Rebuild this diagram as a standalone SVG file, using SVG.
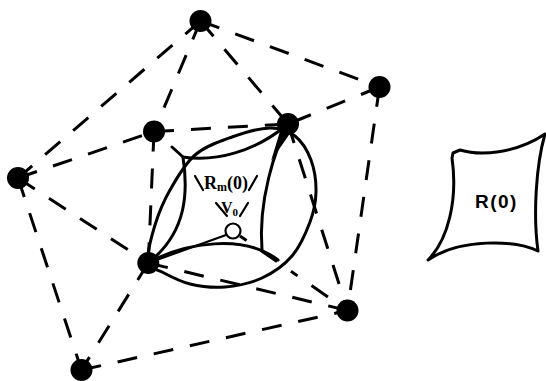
<svg xmlns="http://www.w3.org/2000/svg" width="546" height="381" viewBox="0 0 546 381">
<style>
.dash{stroke:#000;stroke-width:3;stroke-dasharray:20 17;fill:none;stroke-linecap:butt}
.solid{stroke:#000;stroke-width:3;fill:none;stroke-linecap:round;stroke-linejoin:round}
.thin{stroke:#000;stroke-width:2.2;fill:none;stroke-linecap:round}
.node{fill:#000}
.serif{font-family:"Liberation Serif","Times New Roman",serif;font-weight:bold;fill:#000}
.sans{font-family:"Liberation Sans",Arial,sans-serif;font-weight:bold;fill:#000}
</style>
<rect width="546" height="381" fill="#fff"/>
<g id="connectors">
<line class="dash" x1="200.5" y1="21" x2="379.5" y2="87"/>
<line class="dash" x1="200.5" y1="21" x2="288" y2="124"/>
<line class="dash" x1="200.5" y1="21" x2="154" y2="131.5"/>
<line class="dash" x1="200.5" y1="21" x2="18" y2="178"/>
<line class="dash" x1="379.5" y1="87" x2="288" y2="124"/>
<line class="dash" x1="379.5" y1="87" x2="347.5" y2="310.5"/>
<line class="dash" x1="154" y1="131.5" x2="288" y2="124"/>
<line class="dash" x1="288" y1="124" x2="347.5" y2="310.5"/>
<line class="dash" x1="18" y1="178" x2="154" y2="131.5"/>
<line class="dash" x1="154" y1="131.5" x2="148.3" y2="263"/>
<line class="dash" x1="18" y1="178" x2="148.3" y2="263"/>
<line class="dash" x1="18" y1="178" x2="81.5" y2="370"/>
<line class="dash" x1="148.3" y1="263" x2="81.5" y2="370"/>
<line class="dash" x1="148.3" y1="263" x2="347.5" y2="310.5"/>
<line class="dash" x1="81.5" y1="370" x2="347.5" y2="310.5"/>
<line class="dash" x1="240" y1="236" x2="347.5" y2="310.5" style="stroke-dasharray:8 17 20 17"/>
</g>
<g id="ellipse">
<path class="solid" d="M148,262 C146.8,254.2 151.3,237 155,225 C158.7,213 163.3,201.7 170,190 C176.7,178.3 184.7,163.8 195,155 C205.3,146.2 219.5,141.5 232,137 C244.5,132.5 259.5,128.2 270,128 C280.5,127.8 288.2,130.7 295,136 C301.8,141.3 307.5,150.7 311,160 C314.5,169.3 316.2,181.7 316,192 C315.8,202.3 314,211.3 310,222 C306,232.7 300,246.7 292,256 C284,265.3 273.2,272.8 262,278 C250.8,283.2 237,286 225,287 C213,288 200.5,286.5 190,284 C179.5,281.5 169,275.7 162,272 C155,268.3 149.2,269.8 148,262 Z"/>
</g>
<g id="Rm0">
<path class="solid" d="M172,147 L183,157 C215,162 255,152 288,124"/>
<path class="solid" d="M183,157 C188,190 188,232 148,263"/>
<path class="solid" d="M148,263 C185,242 245,234 278,260"/>
<path class="solid" d="M288,124 C275,150 258,200 262,250"/>
<polygon points="281,128 291,132 271,161" fill="#000"/>
<line class="thin" x1="195" y1="176" x2="203" y2="190"/>
<line class="thin" x1="249" y1="190" x2="257" y2="176"/>
<text class="serif" x="204" y="189" font-size="18">R<tspan font-size="12" dy="2">m</tspan><tspan dy="-2">(0)</tspan></text>
</g>
<g id="v0">
<line class="thin" x1="148.3" y1="263" x2="226" y2="235"/>
<circle cx="233" cy="231" r="7.5" fill="#fff" stroke="#000" stroke-width="2.2"/>
<line class="thin" x1="216" y1="203" x2="227" y2="216"/>
<line class="thin" x1="248" y1="203" x2="240" y2="216"/>
<text class="serif" x="221" y="213" font-size="16">V<tspan font-size="11" dy="3">0</tspan></text>
</g>
<g id="R0">
<path class="solid" d="M460,150 C480,156 515,154 545,134 C536,165 533,215 538,251 C515,240 460,238 428,260 C448,240 458,200 452,158 L453,153 Z"/>
<text class="sans" x="475" y="208" font-size="19" letter-spacing="1.5">R(0)</text>
</g>
<g id="nA"><circle class="node" cx="200.5" cy="21" r="11"/></g>
<g id="nB"><circle class="node" cx="379.5" cy="87" r="11"/></g>
<g id="nC"><circle class="node" cx="288" cy="124" r="11"/></g>
<g id="nD"><circle class="node" cx="154" cy="131.5" r="11"/></g>
<g id="nE"><circle class="node" cx="18" cy="178" r="11"/></g>
<g id="nF"><circle class="node" cx="148.3" cy="263" r="11"/></g>
<g id="nG"><circle class="node" cx="347.5" cy="310.5" r="11"/></g>
<g id="nH"><circle class="node" cx="81.5" cy="370" r="11"/></g>
</svg>
